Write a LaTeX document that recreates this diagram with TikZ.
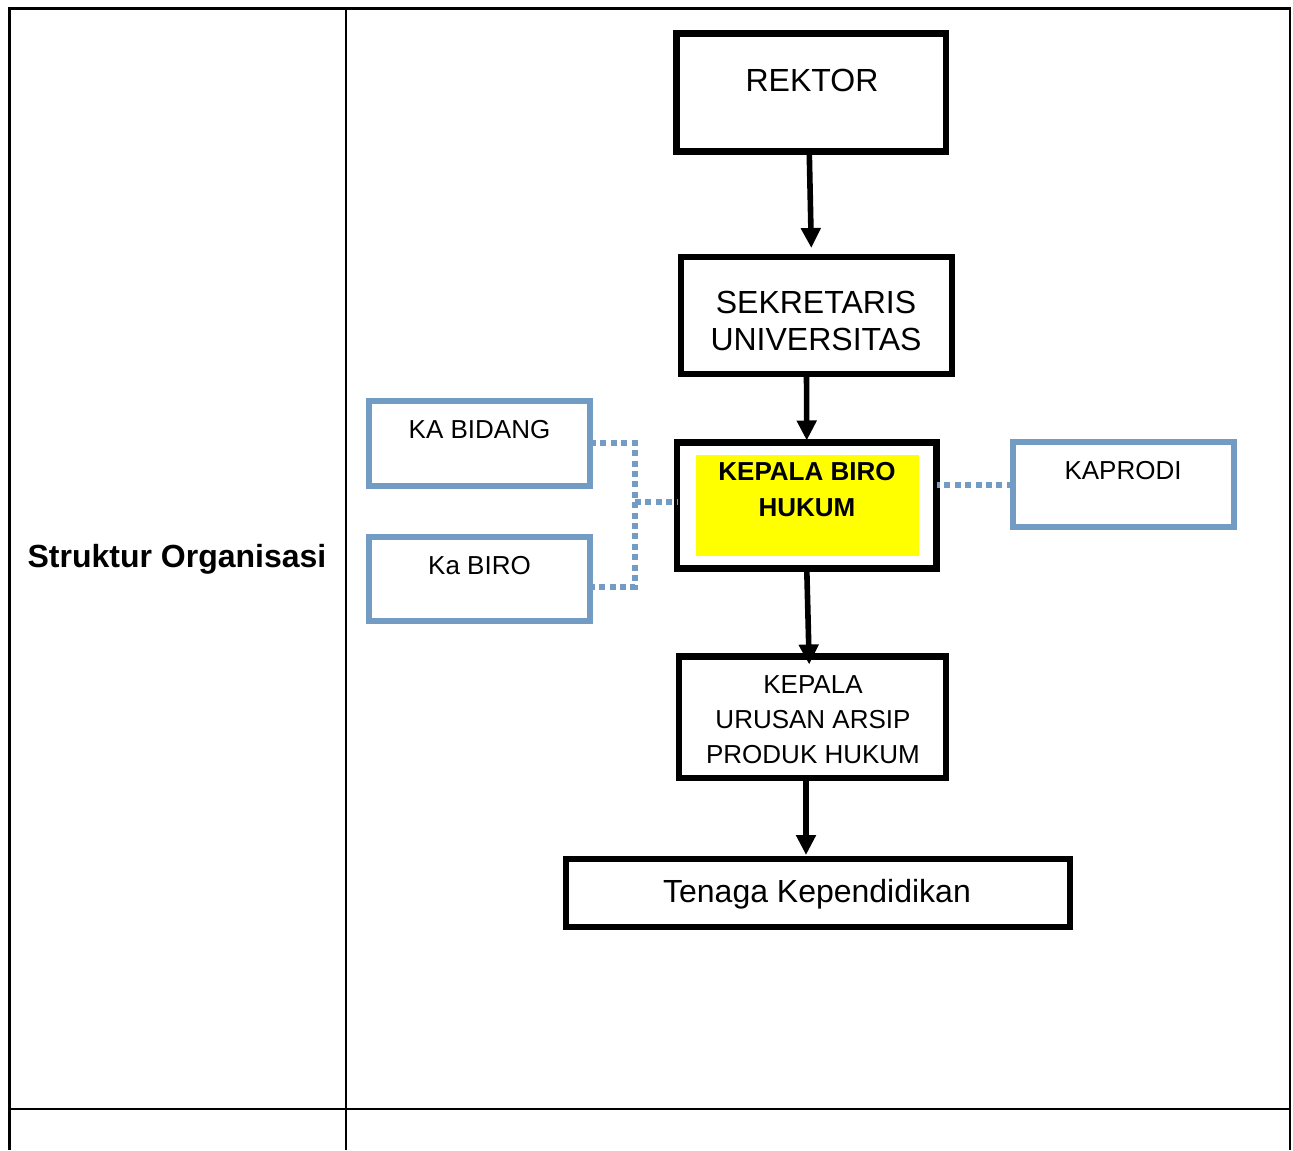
\documentclass[tikz,border=0pt]{standalone}
\usepackage{fontspec}
\setmainfont{Liberation Sans}
\usetikzlibrary{arrows.meta,calc}
\definecolor{sideblue}{RGB}{115,156,196}
\definecolor{hiyellow}{RGB}{255,255,0}

\begin{document}
\begin{tikzpicture}[x=0.5pt,y=-0.5pt,
    orgbox/.style={draw=black,line width=3.2pt,inner sep=0pt,outer sep=0pt},
    sidebox/.style={draw=sideblue,line width=3pt,inner sep=0pt,outer sep=0pt,
      minimum width=110.5pt,minimum height=42.25pt},
    bigtxt/.style={font=\fontsize{16}{18.5}\selectfont,align=center,inner sep=0pt},
    smalltxt/.style={font=\fontsize{13}{17.5}\selectfont,align=center,inner sep=0pt},
    flowarrow/.style={-{Triangle[width=9.5pt,length=10pt]},line width=2.8pt},
    dotlink/.style={sideblue,line width=3pt,dash pattern=on 3pt off 2.2pt}]
  \useasboundingbox (0,0) rectangle (1293,1150);
  % the table: label column on the left, chart on the right
  \draw[line width=1.2pt] (9.5,1150) -- (9.5,8.5) -- (1290,8.5) -- (1290,1150);
  \draw[line width=1.2pt] (346,8.5) -- (346,1150);
  \draw[line width=1.2pt] (9.5,1109) -- (1290,1109);
  \node[bigtxt,font=\fontsize{16}{18.5}\selectfont\bfseries] (rowlabel) at (177,559) {Struktur Organisasi};

  % main line of the chart
  \node[orgbox,minimum width=134.75pt,minimum height=59pt] (rektor) at (811.25,92.5) {};
  \node[bigtxt] (rektortxt) at (812,80.5) {REKTOR};
  \node[orgbox,minimum width=135.5pt,minimum height=58.5pt] (sekr) at (816.5,315.5) {};
  \node[bigtxt] (sekrtxt) at (816,321) {SEKRETARIS\\UNIVERSITAS};
  \fill[hiyellow] (696,455) rectangle (919,556);
  \node[orgbox,minimum width=129.75pt,minimum height=63pt] (kbh) at (806.75,505.5) {};
  \node[smalltxt,font=\fontsize{13}{18.25}\selectfont\bfseries] (kbhtxt) at (807,489.5) {KEPALA BIRO\\HUKUM};
  \node[orgbox,minimum width=133.5pt,minimum height=60.75pt] (urusan) at (812.5,717.25) {};
  \node[smalltxt] (urusantxt) at (813,720) {KEPALA\\URUSAN ARSIP\\PRODUK HUKUM};
  \node[orgbox,minimum width=252pt,minimum height=34pt] (tendik) at (818,893) {};
  \node[bigtxt] (tendiktxt) at (817,894) {Tenaga Kependidikan};

  % side units, dotted lines only
  \node[sidebox] (kabidang) at (479.5,443.25) {};
  \node[smalltxt] (kabidangtxt) at (479.5,429.5) {KA BIDANG};
  \node[sidebox] (kabiro) at (479.5,578.75) {};
  \node[smalltxt] (kabirotxt) at (479.5,566) {Ka BIRO};
  \node[sidebox] (kaprodi) at (1123.25,484.5) {};
  \node[smalltxt] (kaprodixt) at (1123,471) {KAPRODI};

  \coordinate (jn) at (635,502);
  \draw[dotlink] (kabidang.east) -| (jn) |- ([yshift=-4pt]kabiro.east);
  \draw[dotlink] (jn) -- (jn -| kbh.west);
  \draw[dotlink] (kaprodi.west) -- (kaprodi.west -| kbh.east);

  \draw[flowarrow,shorten >=4.5pt] ([xshift=-1pt]rektor.south) -- ([xshift=-2.5pt]sekr.north);
  \draw[flowarrow,shorten >=1pt] ([xshift=-5pt]sekr.south) -- (kbh.north);
  \draw[flowarrow,shorten >=-4pt] (kbh.south) -- ([xshift=-1.75pt]urusan.north);
  \draw[flowarrow,shorten >=2pt] ([xshift=-3.25pt]urusan.south) -- ([xshift=-6pt]tendik.north);
\end{tikzpicture}
\end{document}
